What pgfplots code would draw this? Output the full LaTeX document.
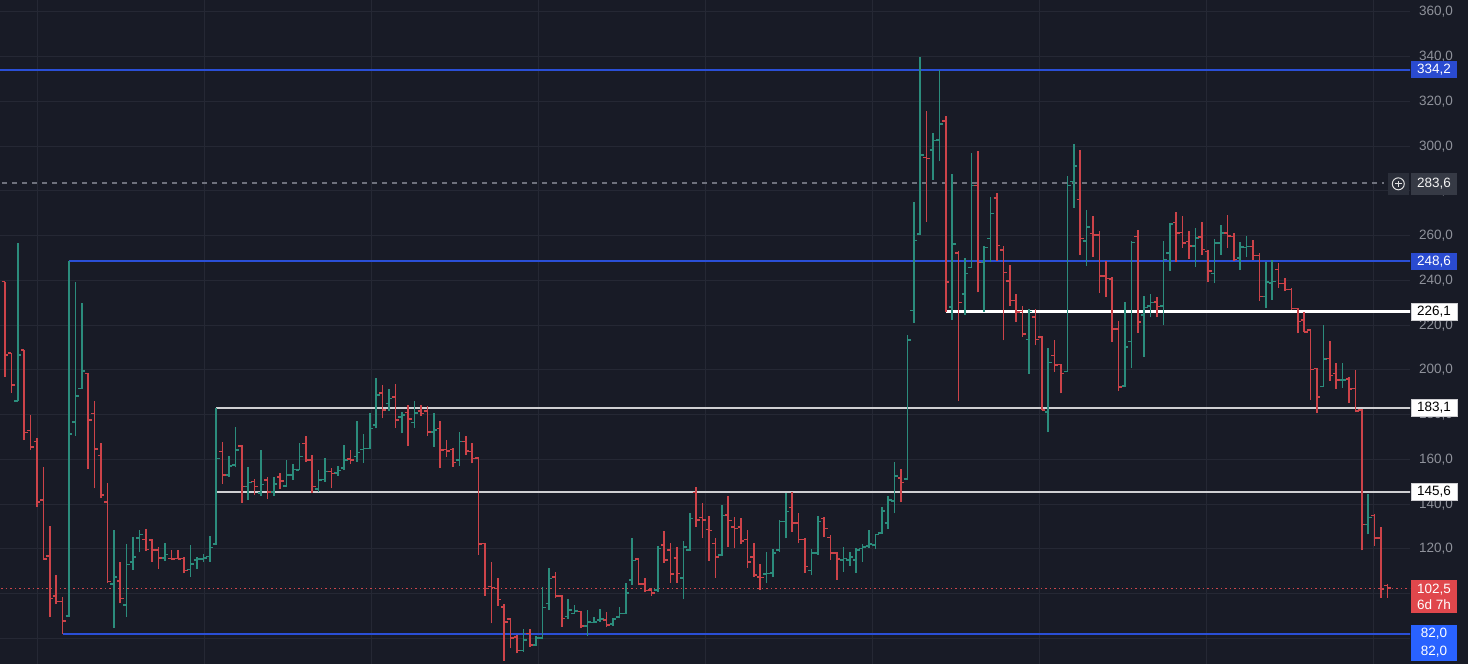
\documentclass[border=0pt]{standalone}
\usepackage{pgfplots}
\pgfplotsset{compat=1.18}
\usepackage{pgfplotstable}
\usepackage{fontspec}
\setmainfont{Liberation Sans}
\definecolor{bg}{HTML}{181B26}
\definecolor{gridc}{HTML}{252834}
\definecolor{upc}{HTML}{2B8C7C}
\definecolor{dnc}{HTML}{CC4349}
\definecolor{lvlblue}{HTML}{2A4FD6}
\definecolor{boxblue}{HTML}{2A4BD0}
\definecolor{boxblue2}{HTML}{2962FF}
\definecolor{tickc}{HTML}{8F929B}
\definecolor{lvlgray}{HTML}{CFCFD2}
\definecolor{dashc}{HTML}{6E717C}
\definecolor{curred}{HTML}{C8464B}
\definecolor{boxred}{HTML}{E0474C}
\definecolor{graybox}{HTML}{363A45}
\definecolor{iconbox}{HTML}{2A2E39}
\pgfdeclareplotmark{otick}{\pgfpathmoveto{\pgfqpoint{-3.4pt}{0pt}}\pgfpathlineto{\pgfqpoint{0pt}{0pt}}\pgfusepathqstroke}
\pgfdeclareplotmark{ctick}{\pgfpathmoveto{\pgfqpoint{0pt}{0pt}}\pgfpathlineto{\pgfqpoint{3.4pt}{0pt}}\pgfusepathqstroke}
\pgfdeclareplotmark{nomark}{}
% rising bars (close >= open)
\pgfplotstableread{
i o h l c
0 225 245 220 237.5
3 186.1 256.6 186.1 206.7
11 90.0 248.6 89.5 171.4
12 176.8 239.2 170.5 188.5
13 191.8 229.8 191.4 199.5
18 104.3 128.5 84.7 107.6
20 95.0 122.2 89.5 113.1
21 114.3 125.5 110.6 116.3
22 124.8 128.5 118.5 126.5
26 116.1 122.5 114.8 117.6
30 110.8 121.8 107.6 113.3
31 115.1 116.3 110.9 115.4
32 115.4 117.8 114.3 116.1
33 116.6 126.0 114.3 120.7
34 122.2 183.1 121.8 160.5
36 153.1 161.6 152.3 157.1
37 157.5 174.7 156.5 164.2
39 147.9 156.8 141.9 149.8
41 144.9 164.2 143.7 148.9
43 145.6 152.0 143.7 149.0
45 148.2 159.8 147.6 153.1
46 153.1 157.8 150.8 155.6
47 155.3 167.5 155.3 161.3
50 146.7 155.3 145.6 150.8
51 151.1 160.5 150.1 154.6
53 154.0 157.1 152.7 155.1
54 156.1 166.5 155.3 159.8
56 161.3 177.2 159.0 163.1
57 164.4 171.4 158.6 165.0
58 165.0 180.6 164.5 173.9
59 175.4 196.3 173.9 188.8
61 185.1 191.4 181.8 187.3
63 179.1 181.4 171.7 179.9
65 176.5 186.1 174.2 180.9
68 172.4 180.6 165.7 173.2
72 159.8 172.4 157.1 168.0
82 74.6 84.1 74.1 79.3
84 77.1 81.3 76.6 80.1
85 80.1 102.9 79.6 93.8
86 95.7 111.3 92.7 106.9
89 89.8 97.5 88.6 92.7
90 91.2 95.0 91.0 92.4
92 85.6 92.7 81.1 87.5
93 87.1 89.8 86.8 87.5
94 88.3 93.0 87.5 88.6
96 86.5 89.0 85.6 88.6
97 89.5 93.9 89.0 91.2
98 91.2 104.6 91.0 100.2
99 106.1 124.8 103.9 114.8
103 101.7 121.3 100.9 120.3
107 107.0 123.7 97.5 120.8
108 119.6 136.2 119.1 133.7
113 117.3 139.7 116.9 135.0
120 108.8 118.8 104.6 109.1
121 109.4 119.9 107.6 118.1
122 119.6 133.0 118.8 132.2
123 132.2 145.2 124.8 136.7
127 110.3 119.9 108.4 118.1
128 118.1 134.8 117.3 132.2
132 115.1 120.8 109.9 115.8
133 115.1 118.8 112.4 116.3
134 115.1 120.3 109.4 119.6
135 120.3 122.2 114.3 121.0
136 121.4 128.7 120.4 122.3
137 121.9 126.8 119.9 126.4
138 127.2 138.9 126.9 137.0
139 131.7 143.5 129.0 142.0
140 141.5 158.9 135.9 152.6
142 151.3 215.6 151.0 213.3
143 226.6 275.3 221.2 257.9
144 260.9 339.9 260.5 296.1
146 298.2 305.8 285.1 302.5
147 302.8 333.9 293.4 310.0
149 228.1 287.4 222.4 256.4
151 233.9 250.2 224.6 243.1
152 245.8 296.9 245.4 282.4
154 248.0 255.4 226.1 254.7
155 258.7 277.4 248.3 270.0
161 213.6 227.3 198.4 226.1
164 181.3 209.8 172.1 203.3
167 199.4 286.6 199.1 282.4
168 284.3 300.8 272.6 291.3
170 257.7 271.7 246.5 264.0
176 192.9 230.2 192.4 210.2
177 212.7 257.5 200.8 257.0
179 224.5 233.1 205.7 227.9
180 228.6 233.8 223.5 230.1
182 228.6 257.5 220.1 249.3
183 252.3 265.6 244.2 265.2
187 255.3 263.4 246.1 258.9
190 243.1 258.5 238.7 256.7
191 256.7 264.9 251.6 261.2
194 250.1 257.0 244.9 255.0
195 254.8 259.7 250.5 255.2
198 232.8 248.2 227.9 239.3
199 239.0 249.3 231.3 239.5
207 192.6 220.0 192.6 204.8
210 195.5 203.3 192.1 195.6
214 131.0 144.4 126.5 134.0
}\upbars
% falling bars (close < open)
\pgfplotstableread{
i o h l c
1 239.5 239.5 197.0 206.7
2 207.7 207.7 189.9 193.4
4 208.9 208.9 168.7 172.1
5 172.9 179.9 164.2 165.7
6 168.0 169.4 138.6 141.1
7 141.9 156.8 115.1 115.5
8 116.9 130.3 89.7 97.9
9 99.1 108.4 95.4 96.5
10 96.5 98.4 82.0 87.8
14 198.5 198.8 155.6 177.6
15 180.6 186.3 147.1 164.7
16 161.7 167.2 142.6 144.0
17 141.1 149.3 104.9 105.4
19 105.8 114.4 95.7 97.9
23 124.3 128.8 119.2 119.8
24 124.0 124.3 114.3 119.5
25 119.5 121.0 111.1 116.1
27 115.8 119.5 115.1 115.4
28 115.8 119.5 115.5 115.6
29 115.8 116.3 109.1 110.3
35 163.5 168.0 149.1 153.1
38 166.0 166.5 140.7 147.9
40 150.1 151.3 144.1 147.9
42 150.8 152.0 142.2 145.6
44 152.3 154.1 146.7 150.5
48 167.2 170.5 159.0 159.8
49 159.8 162.0 145.2 147.9
52 154.6 156.1 147.1 153.8
55 160.1 164.2 158.0 159.8
60 189.6 193.3 178.4 182.1
62 187.8 193.6 174.2 177.7
64 181.0 184.4 166.0 178.0
66 181.8 184.4 179.4 180.6
67 181.8 183.9 170.5 172.4
69 173.9 177.2 156.1 164.2
70 164.5 168.7 161.3 163.8
71 164.5 165.0 156.8 158.6
73 168.0 170.5 162.0 163.8
74 163.5 167.5 158.3 160.5
75 160.8 161.3 117.3 122.1
76 122.5 122.8 99.1 102.4
77 103.2 114.3 86.8 102.7
78 102.4 106.9 94.7 97.5
79 94.2 95.3 70.0 87.5
80 88.6 89.0 75.6 80.1
81 80.8 81.6 73.4 74.6
83 82.3 84.1 76.3 77.1
87 107.6 109.9 97.9 99.0
88 99.0 99.4 85.3 89.0
91 92.1 92.4 84.5 85.6
95 88.3 92.0 85.0 86.0
100 115.4 115.8 103.9 104.4
101 104.4 106.9 101.0 101.4
102 101.7 102.4 99.0 100.2
104 121.8 128.2 113.9 115.1
105 119.6 122.5 104.9 108.8
106 116.0 121.0 104.9 109.0
109 145.2 147.6 130.0 133.0
110 134.0 140.4 124.8 133.0
111 128.8 134.8 114.8 128.2
112 122.5 124.8 107.2 116.3
114 135.2 143.7 120.8 132.7
115 129.7 134.5 120.3 129.2
116 129.7 133.7 122.2 123.7
117 124.3 128.5 111.4 114.3
118 116.3 122.5 107.6 108.4
119 107.6 113.3 101.7 107.3
124 138.6 145.6 127.8 131.5
125 131.5 135.9 122.5 124.3
126 124.3 124.8 109.4 112.1
129 133.7 134.2 125.2 129.1
130 125.2 126.3 115.1 118.1
131 118.1 118.8 106.1 115.4
141 151.6 155.6 140.8 149.8
145 295.0 315.8 266.2 294.6
148 311.2 313.3 226.1 239.3
150 252.3 253.4 186.1 230.2
153 282.4 297.7 234.7 248.0
156 276.9 279.2 248.8 255.7
157 253.7 255.4 213.2 243.6
158 239.9 246.8 228.5 231.0
159 231.0 233.9 221.6 225.8
160 226.1 228.8 214.7 216.2
162 223.6 227.3 211.0 213.6
163 214.7 215.1 182.1 182.1
165 206.5 213.2 199.1 202.1
166 202.4 202.8 189.5 198.4
169 276.2 298.1 251.3 258.7
171 261.0 268.8 250.7 260.2
172 260.2 262.1 234.4 242.1
173 242.1 248.8 232.5 240.9
174 240.6 241.4 212.7 218.4
175 218.4 222.1 190.5 192.4
178 259.7 262.4 216.5 221.5
181 230.4 232.8 223.5 228.3
184 265.9 270.8 248.2 261.2
185 261.5 268.6 254.5 256.7
186 257.5 261.9 249.6 255.3
188 259.4 266.3 251.6 253.8
189 253.0 253.8 239.3 244.2
192 261.2 269.3 254.5 260.0
193 259.7 261.2 248.6 249.3
196 255.2 257.9 249.3 251.1
197 251.1 252.3 230.9 232.8
200 244.9 247.9 236.8 238.7
201 238.7 241.2 235.3 236.0
202 236.0 236.8 226.9 227.5
203 227.4 227.9 216.4 221.6
204 222.4 225.7 217.0 217.0
205 217.9 218.2 186.6 200.3
206 200.6 201.0 180.9 187.9
208 205.1 213.0 195.1 197.6
209 198.5 203.0 191.7 195.5
211 196.1 197.0 185.4 191.4
212 191.7 200.0 181.2 181.7
213 182.1 182.4 119.4 131.0
215 135.0 135.5 121.4 125.0
216 125.0 130.0 98.2 102.2
217 103.7 104.2 98.2 102.5
}\dnbars
\begin{document}
\begin{tikzpicture}
\fill[bg] (0pt,0pt) rectangle (1468pt,664pt);
\begin{axis}[
  at={(0pt,0pt)}, anchor=south west,
  scale only axis, width=1410pt, height=664pt,
  xmin=0.21875, xmax=220.53, ymin=68.6, ymax=365.36,
  clip mode=individual,
  axis line style={draw=none},
  major tick length=0pt,
  xtick={6.05,32.16,58.27,84.38,110.49,136.6,162.7,188.8,214.9},
  xticklabels={},
  ytick={120,140,...,360},
  extra y ticks={80,100},
  extra y tick labels={},
  extra y tick style={grid=major},
  yticklabel pos=right,
  yticklabel style={font=\fontsize{13.5}{15}\selectfont, text=tickc, anchor=west, inner sep=0pt, xshift=9pt,
    /pgf/number format/.cd, fixed, fixed zerofill, precision=1, use comma, assume math mode=true},
  grid=major,
  major grid style={draw=gridc, line width=1pt},
]
% level lines
\addplot[draw=lvlblue, line width=2.2pt] coordinates {(-1,334.2) (222,334.2)};
\addplot[draw=lvlblue, line width=2.2pt] coordinates {(11,248.6) (222,248.6)};
\addplot[draw=lvlblue, line width=2.2pt] coordinates {(10,82.0) (222,82.0)};
\addplot[draw=white, line width=2.4pt] coordinates {(148,226.1) (222,226.1)};
\addplot[draw=lvlgray, line width=2pt] coordinates {(34,183.1) (222,183.1)};
\addplot[draw=lvlgray, line width=2pt] coordinates {(34,145.6) (222,145.6)};
\addplot[draw=dashc, line width=1.3pt, dash pattern=on 5pt off 5pt] coordinates {(-1,283.6) (216.5,283.6)};
\addplot[draw=curred, line width=1.2pt, dash pattern=on 1.5pt off 3pt] coordinates {(-1,102.5) (222,102.5)};
% bars: high-low ranges
\addplot[draw=upc, only marks, mark=nomark,
  error bars/.cd, y dir=plus, y explicit, error mark=none,
  error bar style={draw=upc, line width=1.6pt, solid}]
  table[x=i, y=l, y error expr=\thisrow{h}-\thisrow{l}] {\upbars};
\addplot[draw=dnc, only marks, mark=nomark,
  error bars/.cd, y dir=plus, y explicit, error mark=none,
  error bar style={draw=dnc, line width=1.6pt, solid}]
  table[x=i, y=l, y error expr=\thisrow{h}-\thisrow{l}] {\dnbars};
% open / close ticks
\addplot[only marks, mark=otick, mark options={draw=upc, line width=1.6pt}] table[x=i, y=o] {\upbars};
\addplot[only marks, mark=ctick, mark options={draw=upc, line width=1.6pt}] table[x=i, y=c] {\upbars};
\addplot[only marks, mark=otick, mark options={draw=dnc, line width=1.6pt}] table[x=i, y=o] {\dnbars};
\addplot[only marks, mark=ctick, mark options={draw=dnc, line width=1.6pt}] table[x=i, y=c] {\dnbars};
% price labels
\tikzset{plab/.style={anchor=west, xshift=0.7pt, minimum width=46pt, minimum height=17pt, inner sep=0pt,
  font=\fontsize{13.5}{15}\selectfont}}
\node[plab, fill=boxblue, text=white] at (axis cs:220.53,334.2) {334,2};
\node[plab, fill=graybox, text=white!90!gray, minimum height=22pt] at (axis cs:220.53,283.2) {283,6};
\node[anchor=east, xshift=-1pt, fill=iconbox, minimum width=21pt, minimum height=22pt, inner sep=0pt] (ic) at (axis cs:220.53,283.2) {};
\draw[draw=white!75!gray, line width=1pt] (ic.center) circle (6pt);
\draw[draw=white!75!gray, line width=1pt] ([xshift=-3.2pt]ic.center) -- ([xshift=3.2pt]ic.center) ([yshift=-3.2pt]ic.center) -- ([yshift=3.2pt]ic.center);
\node[plab, fill=boxblue, text=white] at (axis cs:220.53,248.6) {248,6};
\node[plab, fill=white, draw=lvlgray, text=black] at (axis cs:220.53,226.1) {226,1};
\node[plab, fill=white, draw=lvlgray, text=black] at (axis cs:220.53,183.1) {183,1};
\node[plab, fill=white, draw=lvlgray, text=black] at (axis cs:220.53,145.6) {145,6};
\node[plab, fill=boxred, text=white, minimum height=33pt, align=center, font=\fontsize{13.5}{16}\selectfont] at (axis cs:220.53,98.7) {102,5\\6d 7h};
\node[plab, fill=boxblue2, text=white, minimum height=18pt] at (axis cs:220.53,82.0) {82,0};
\node[plab, fill=boxblue2, text=white, minimum height=18pt] at (axis cs:220.53,73.9) {82,0};
\end{axis}
\pgfresetboundingbox
\path (0pt,0pt) rectangle (1468pt,664pt);
\end{tikzpicture}
\end{document}
